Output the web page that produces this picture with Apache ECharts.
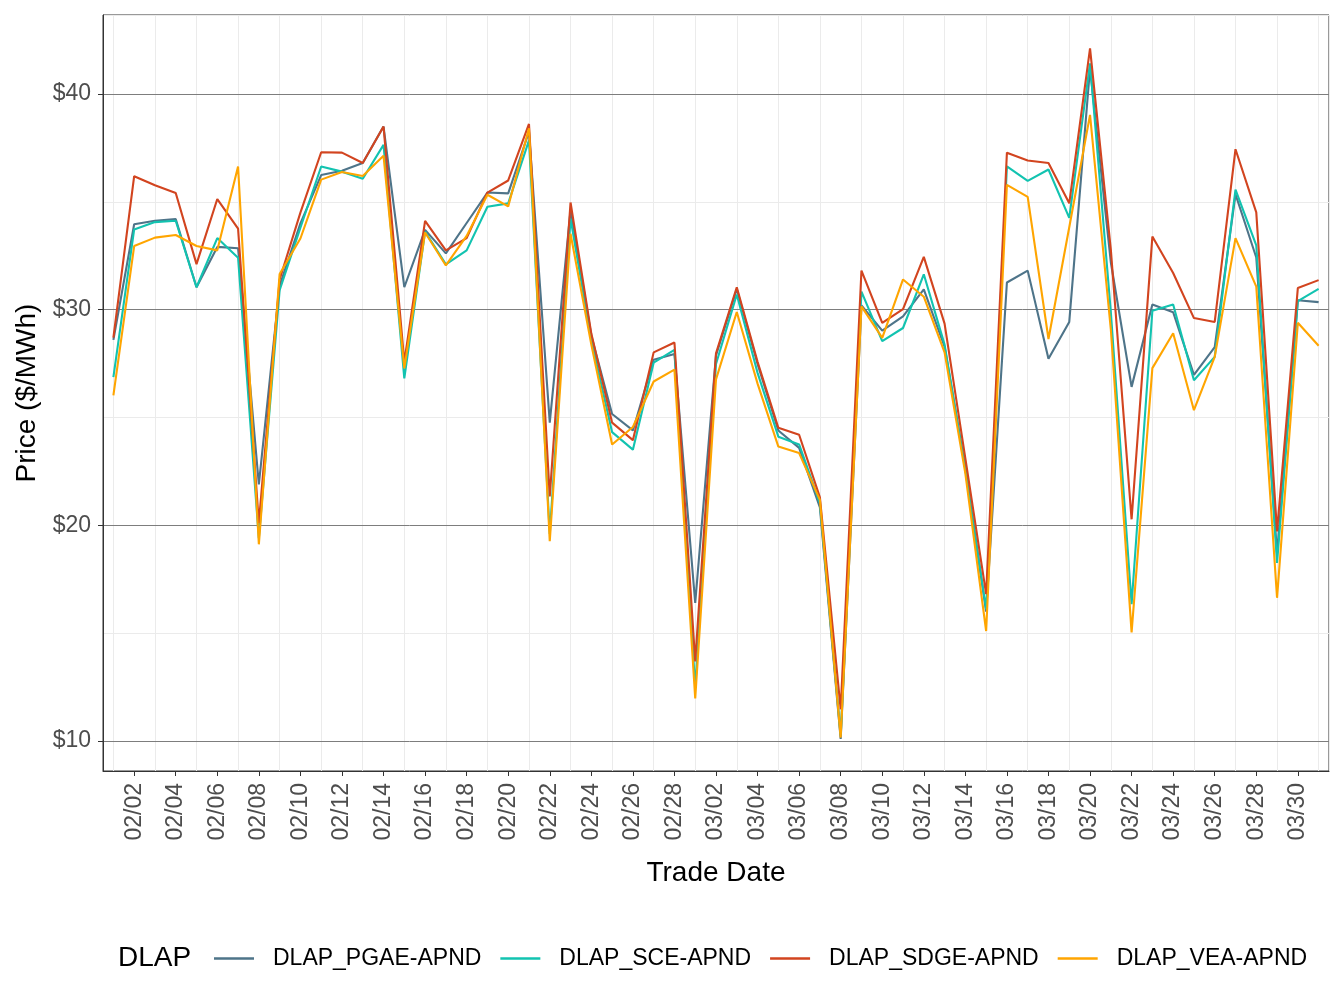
<!DOCTYPE html>
<html>
<head>
<meta charset="utf-8">
<script src="https://cdn.jsdelivr.net/npm/echarts@6/dist/echarts.min.js"></script>
<style>
html,body{margin:0;padding:0;background:#fff;}
#chart{width:1344px;height:1008px;}
</style>
</head>
<body>
<div id="chart"></div>
<script>
const dates = ['02/01','02/02','02/03','02/04','02/05','02/06','02/07','02/08','02/09','02/10','02/11','02/12','02/13','02/14','02/15','02/16','02/17','02/18','02/19','02/20','02/21','02/22','02/23','02/24','02/25','02/26','02/27','02/28','03/01','03/02','03/03','03/04','03/05','03/06','03/07','03/08','03/09','03/10','03/11','03/12','03/13','03/14','03/15','03/16','03/17','03/18','03/19','03/20','03/21','03/22','03/23','03/24','03/25','03/26','03/27','03/28','03/29','03/30','03/31'];

const pgae = [28.6,33.96,34.12,34.2,31.04,32.91,32.85,21.9,31.1,34.0,36.24,36.44,36.8,38.49,31.04,33.7,32.61,34.02,35.43,35.39,38.25,24.76,34.62,28.79,25.16,24.4,27.68,27.94,16.4,27.88,30.96,27.48,24.4,23.59,20.83,10.1,30.2,29.03,29.69,30.94,28.28,22.6,16.0,31.26,31.81,27.72,29.43,41.2,32.2,26.42,30.24,29.88,26.98,28.26,35.35,32.42,18.7,30.44,30.35];
const sce = [26.87,33.72,34.06,34.12,31.04,33.32,32.41,19.4,30.9,33.8,36.64,36.4,36.07,37.64,26.81,33.62,32.1,32.75,34.77,34.93,37.85,19.6,34.22,28.58,24.32,23.51,27.54,28.14,12.48,27.48,30.7,27.07,24.11,23.75,21.03,10.26,30.84,28.54,29.15,31.64,28.38,22.6,16.1,36.64,35.97,36.5,34.26,41.42,29.9,16.34,29.95,30.24,26.73,27.81,35.57,32.98,18.26,30.4,30.96];
const sdge = [28.7,36.19,35.77,35.41,32.11,35.13,33.76,20.1,31.4,34.5,37.3,37.28,36.8,38.49,27.58,34.12,32.75,33.32,35.43,35.99,38.61,21.34,34.97,28.89,24.76,23.95,28.02,28.48,13.69,27.98,31.04,27.58,24.52,24.2,21.3,11.47,31.81,29.39,30.03,32.45,29.35,23.1,16.81,37.28,36.92,36.8,34.93,42.12,32.8,20.28,33.39,31.7,29.61,29.43,37.44,34.51,19.72,31.0,31.37];
const vea = [26.03,32.95,33.34,33.46,32.95,32.75,36.64,19.12,31.65,33.3,36.03,36.38,36.2,37.14,27.28,33.58,32.05,33.42,35.33,34.79,38.41,19.26,33.52,28.38,23.75,24.56,26.67,27.22,11.97,26.77,29.89,26.57,23.65,23.35,21.18,10.16,30.15,28.69,31.4,30.6,28.02,22.4,15.1,35.79,35.23,28.64,33.82,39.03,29.1,15.04,27.29,28.91,25.34,27.81,33.32,31.07,16.64,29.39,28.33];

const seriesNames = ['DLAP_PGAE-APND','DLAP_SCE-APND','DLAP_SDGE-APND','DLAP_VEA-APND'];
const seriesData = [pgae, sce, sdge, vea];
const colors = ['#4e7489','#12c3b0','#d2441f','#ffa500'];
const yTicks = [10,20,30,40];

const FONT = "'Liberation Sans', Arial, sans-serif";
const Y_MIN = 8.609, Y_MAX = 43.663;

const chart = echarts.init(document.getElementById('chart'), null, {renderer:'canvas'});
const option = {
  animation: false,
  backgroundColor: '#ffffff',
  textStyle: {fontFamily: FONT},
  color: colors,
  title: {
    text: 'DLAP', left: 118, top: 944, padding: 0,
    textStyle: {fontFamily: FONT, fontSize: 28, fontWeight: 'normal', color: '#000'}
  },
  legend: {
    left: 214, top: 947, padding: 0,
    icon: 'rect', itemWidth: 40, itemHeight: 2.5, itemGap: 19,
    data: seriesNames,
    textStyle: {fontFamily: FONT, fontSize: 23, color: '#000', padding: [0,0,0,14]}
  },
  grid: {
    left: 103, right: 15, top: 15, bottom: 237,
    show: true, borderColor: '#333333', borderWidth: 1, backgroundColor: '#ffffff'
  },
  xAxis: [
    {
      type: 'category', data: dates, boundaryGap: true,
      name: 'Trade Date', nameLocation: 'middle', nameGap: 88,
      nameTextStyle: {fontFamily: FONT, fontSize: 28, color: '#000'},
      axisLine: {show: true, onZero: false, lineStyle: {color: '#333333', width: 1}},
      axisTick: {show: true, alignWithLabel: true, length: 5, interval: (i) => i % 2 === 1, lineStyle: {color: '#333333'}},
      axisLabel: {rotate: 90, margin: 12, interval: (i) => i % 2 === 1, fontFamily: FONT, fontSize: 23, color: '#4d4d4d'},
      splitLine: {show: false}
    },
    {
      type: 'value', min: -0.5, max: 58.5, splitNumber: 30, z: 0,
      axisLine: {show: false, onZero: false}, axisTick: {show: false}, axisLabel: {show: false},
      splitLine: {show: true, lineStyle: {color: '#ebebeb', width: 1}}
    }
  ],
  yAxis: [
    {
      type: 'value', min: Y_MIN, max: Y_MAX, splitNumber: 3, z: 1,
      name: 'Price ($/MWh)', nameLocation: 'middle', nameGap: 62,
      nameTextStyle: {fontFamily: FONT, fontSize: 28, color: '#000'},
      axisLine: {show: true, onZero: false, lineStyle: {color: '#333333', width: 1}},
      axisTick: {show: true, length: 5, customValues: yTicks, lineStyle: {color: '#333333'}},
      axisLabel: {margin: 12, customValues: yTicks,
        formatter: (v) => '$' + Math.round(v), fontFamily: FONT, fontSize: 23, color: '#4d4d4d'},
      splitLine: {show: true, lineStyle: {color: '#7d7d7d', width: 1}}
    },
    {
      type: 'value', min: Y_MIN, max: Y_MAX, splitNumber: 7, z: 0,
      axisLine: {show: false, onZero: false}, axisTick: {show: false}, axisLabel: {show: false},
      splitLine: {show: true, lineStyle: {color: '#ebebeb', width: 1}}
    }
  ],
  series: seriesNames.map((n, i) => ({
    name: n, type: 'line', data: seriesData[i], xAxisIndex: 0, yAxisIndex: 0,
    symbol: 'none', showSymbol: false, z: 3,
    lineStyle: {color: colors[i], width: 2.1},
    itemStyle: {color: colors[i]}
  }))
};
chart.setOption(option);
</script>
</body>
</html>
